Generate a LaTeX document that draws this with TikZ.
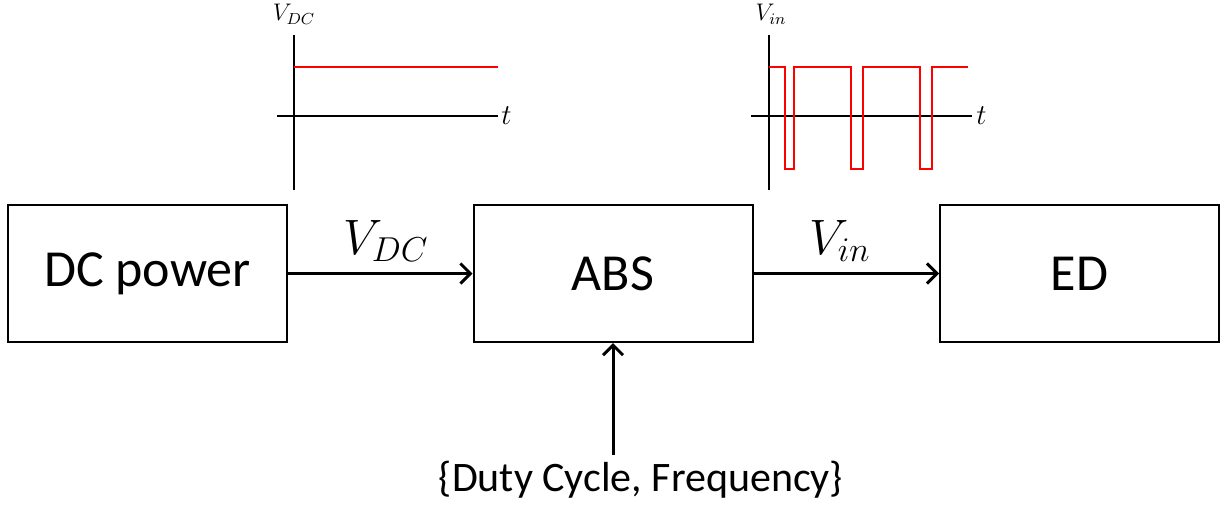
\documentclass[tikz,border=0pt]{standalone}
\usepackage{fontspec}
\setmainfont{Carlito}
\usetikzlibrary{arrows.meta}
\definecolor{pwmRed}{HTML}{FF0000}
\tikzset{
  pwm block/.style={draw=black, line width=1pt, minimum width=139.5pt, minimum height=68.5pt, inner sep=0pt, font=\fontsize{26}{30}\selectfont},
  pwm link/.style={draw=black, line width=1.5pt, -{Straight Barb[length=5pt, width=10pt]}},
  pwm axis/.style={draw=black, line width=0.9pt},
  pwm wave/.style={draw=pwmRed, line width=0.9pt},
  pwm label/.style={font=\fontsize{26}{30}\selectfont},
  pwm small label/.style={font=\fontsize{12}{14}\selectfont, inner sep=1pt},
  pwm time label/.style={font=\fontsize{14}{16}\selectfont, inner sep=1pt, anchor=west},
}
\begin{document}
\begin{tikzpicture}[x=0.5pt, y=-0.5pt]
  \useasboundingbox (0,0) rectangle (1225,510);
  % Blocks of the chain
  \node[pwm block] (dc) at (147.5,273.5) {DC power};
  \node[pwm block] (abs) at (613,273.5) {ABS};
  \node[pwm block] (ed) at (1079.5,273.5) {ED};
  % Links between blocks
  \draw[pwm link] (dc) -- (abs);
  \draw[pwm link] (abs) -- (ed);
  \node[pwm label] (vdc) at (386,241) {$V_{DC}$};
  \node[pwm label] (vin) at (840,241) {$V_{in}$};
  % Control input from below
  \node[font=\fontsize{21}{25}\selectfont] (params) at (641,480) {\{Duty Cycle, Frequency\}};
  \coordinate (ctrl) at (613,455);
  \draw[pwm link] (ctrl) -- (abs.south);
  % Constant DC waveform
  \draw[pwm axis] (294,35) -- (294,190);
  \draw[pwm axis] (277,116) -- (498,116);
  \draw[pwm wave] (294,67) -- (498,67);
  \node[pwm small label] (vdcaxis) at (294,14) {$V_{DC}$};
  \node[pwm time label] (tdc) at (499,116) {$t$};
  % Chopped waveform
  \draw[pwm axis] (769,35) -- (769,190);
  \draw[pwm axis] (751,116) -- (972,116);
  \draw[pwm wave] (769,67) -- (785,67) -- (785,169) -- (794,169) -- (794,67)
    -- (851,67) -- (851,169) -- (863,169) -- (863,67)
    -- (920,67) -- (920,169) -- (932,169) -- (932,67) -- (968,67);
  \node[pwm small label] (vinaxis) at (771,14) {$V_{in}$};
  \node[pwm time label] (tin) at (974,116) {$t$};
\end{tikzpicture}
\end{document}
